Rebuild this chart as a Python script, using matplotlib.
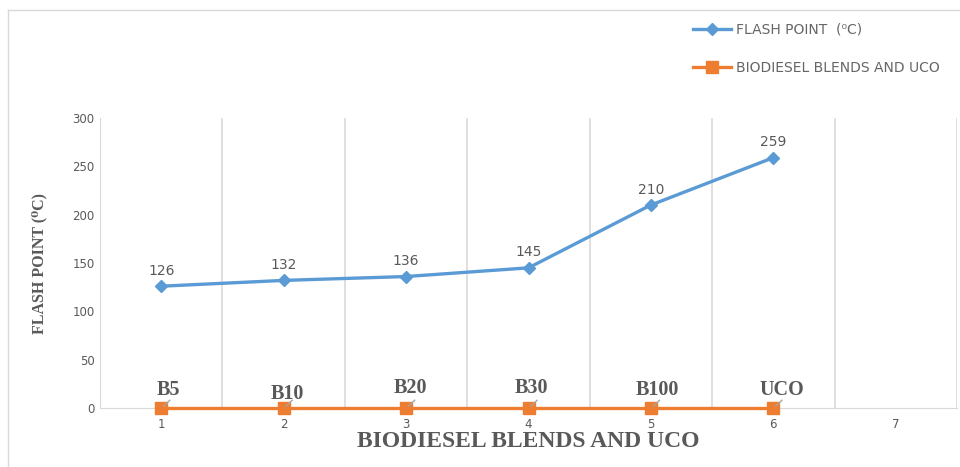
import matplotlib.pyplot as plt
from matplotlib.lines import Line2D

x = [1, 2, 3, 4, 5, 6]
flash_point = [126, 132, 136, 145, 210, 259]
blend_values = [0, 0, 0, 0, 0, 0]
blend_labels = ["B5", "B10", "B20", "B30", "B100", "UCO"]
xticks = [1, 2, 3, 4, 5, 6, 7]
yticks = [0, 50, 100, 150, 200, 250, 300]

blue = "#5B9BD5"
orange = "#ED7D31"
gray = "#595959"
grid = "#D9D9D9"
serif = ["Liberation Serif", "DejaVu Serif"]

fig = plt.figure(figsize=(9.6, 4.67), dpi=100)
ax = fig.add_axes([100/960, 1-408/467, 857/960, 290/467])

ax.plot(x, flash_point, color=blue, lw=2.4, marker="D", ms=6, zorder=3,
        label="FLASH POINT  (\u2070C)")
ax.plot(x, blend_values, color=orange, lw=2.4, marker="s", ms=8, zorder=4,
        label="BIODIESEL BLENDS AND UCO", clip_on=False)

for xi, v in zip(x, flash_point):
    ax.annotate(str(v), (xi, v), xytext=(0, 6), textcoords="offset points",
                ha="center", va="bottom", fontsize=10, color=gray,
                family="DejaVu Sans")

offsets = [(5, 6), (3, 3), (3, 7), (2, 7), (5, 6), (6, 6)]
for xi, v, lab, off in zip(x, blend_values, blend_labels, offsets):
    ax.annotate(lab, (xi, v), xytext=off, textcoords="offset points",
                ha="center", va="bottom", fontsize=14.5, color=gray,
                family=serif, fontweight="bold", zorder=5)
    ax.add_line(Line2D([xi + 0.02, xi + 0.07], [2, 8], color="#A6A6A6",
                       lw=1, zorder=5, clip_on=False))

ax.set_xlim(0.5, 7.5)
ax.set_ylim(0, 300)
ax.set_xticks(xticks)
ax.set_yticks(yticks)
ax.set_xticks([1.5 + i for i in range(7)], minor=True)
ax.grid(which="minor", axis="x", color=grid, lw=1.2)
ax.tick_params(which="both", length=0)
ax.tick_params(axis="both", labelsize=8.5, labelcolor=gray)
ax.tick_params(axis="y", pad=4)
ax.tick_params(axis="x", pad=7)
for sp in ["top", "right"]:
    ax.spines[sp].set_visible(False)
ax.spines["left"].set_color(grid)
ax.spines["bottom"].set_color(grid)

ax.set_xlabel("BIODIESEL BLENDS AND UCO", family=serif,
              fontweight="bold", fontsize=17, color=gray, labelpad=0)
ax.set_ylabel("FLASH POINT (\u2070C)", family=serif,
              fontweight="bold", fontsize=11.5, color=gray, labelpad=18)

leg = fig.legend(loc="upper left", bbox_to_anchor=(680/960, 1-10/467),
                 frameon=False, fontsize=10, labelcolor="#666666",
                 handlelength=2.8, labelspacing=1.75, handletextpad=0.3)

fig.add_artist(Line2D([8/960, 8/960], [0, 1-10/467], color=grid, lw=1,
                      transform=fig.transFigure))
fig.add_artist(Line2D([8/960, 1], [1-10/467, 1-10/467], color=grid, lw=1,
                      transform=fig.transFigure))

fig.savefig("out.png", dpi=100)
